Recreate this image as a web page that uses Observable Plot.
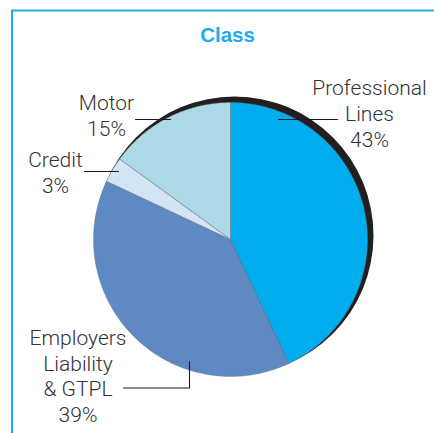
<!DOCTYPE html>
<html>
<head>
<meta charset="utf-8">
<script src="https://cdn.jsdelivr.net/npm/d3@7"></script>
<script src="https://cdn.jsdelivr.net/npm/@observablehq/plot@0.6"></script>
<style>
  html, body { margin: 0; padding: 0; background: #fff; }
  #chart svg { display: block; }
</style>
</head>
<body>
<div id="chart"></div>
<script>
// ---- data ----
const title = "Class";
const categories = ["Professional Lines", "Employers Liability & GTPL", "Credit", "Motor"];
const shares = [43, 39, 3, 15];
const labelLines = [["Professional", "Lines"], ["Employers", "Liability", "& GTPL"], ["Credit"], ["Motor"]];
const sliceColors = ["#00aeef", "#5e89c3", "#d3e5f4", "#add8e6"];

// ---- layout (pixels) ----
const W = 434, H = 433;
const cx = 230, cy = 239, R = 137;
const shadow = {dx: 4, dy: -4, r: 139};
const labelPos = [
  {x: 369, y: 112.3, leader: [[278, 119], [337, 119]]},
  {x: 77.5, y: 374.7, leader: [[123, 387.5], [189, 387.5], [189, 361]]},
  {x: 55, y: 171.3, leader: [[84, 171], [118, 171]]},
  {x: 106, y: 114.3, leader: [[135, 119], [170, 119]]}
];
const textColor = "#333333";
const frameColor = "#1fafea";

const pie = d3.pie().sort(null).value(d => d)(shares);

function slicePolygon(arc) {
  const pts = [{x: cx, y: cy}];
  const n = Math.max(2, Math.ceil((arc.endAngle - arc.startAngle) / (Math.PI / 360)));
  for (let i = 0; i <= n; i++) {
    const a = arc.startAngle + (arc.endAngle - arc.startAngle) * i / n;
    pts.push({x: cx + R * Math.sin(a), y: cy - R * Math.cos(a)});
  }
  pts.push({x: cx, y: cy});
  return pts;
}

const marks = [];
// frame
marks.push(Plot.ruleY([10], {x1: 11, x2: W, stroke: frameColor, strokeWidth: 2}));
marks.push(Plot.ruleX([11.5], {y1: 10, y2: H, stroke: frameColor, strokeWidth: 2}));
// title
marks.push(Plot.text([title], {x: 227, y: 35, text: d => d, fill: "#1dadea", fontSize: 20.5, fontWeight: "bold", textAnchor: "middle", fontFamily: "Liberation Sans, Arial, sans-serif"}));
// shadow ring
marks.push(Plot.dot([{x: cx + shadow.dx, y: cy + shadow.dy}], {x: "x", y: "y", r: shadow.r, fill: "#231f20", stroke: "none"}));
// slices
pie.forEach((arc, i) => {
  marks.push(Plot.line(slicePolygon(arc), {x: "x", y: "y", fill: sliceColors[i], stroke: "#6d7a85", strokeWidth: 0.5, strokeOpacity: 0.8}));
});
// leaders
labelPos.forEach(p => {
  marks.push(Plot.line(p.leader.map(([x, y]) => ({x, y})), {x: "x", y: "y", stroke: "#1a1a1a", strokeWidth: 1.1}));
});
// labels
const labels = categories.map((c, i) => ({
  text: [...labelLines[i], shares[i] + "%"].join("\n"),
  x: labelPos[i].x, y: labelPos[i].y
}));
marks.push(Plot.text(labels, {
  x: "x", y: "y", text: "text", textAnchor: "middle", lineAnchor: "middle",
  lineHeight: 1.22, fontSize: 21, fill: textColor, fontWeight: 300,
  fontFamily: "Roboto, 'Liberation Sans', sans-serif"
}));

const chart = Plot.plot({
  width: W, height: H,
  margin: 0,
  x: {domain: [0, W], range: [0, W], axis: null},
  y: {domain: [0, H], range: [0, H], axis: null},
  style: {background: "#fff", overflow: "visible"},
  marks
});
document.getElementById("chart").append(chart);
</script>
</body>
</html>
